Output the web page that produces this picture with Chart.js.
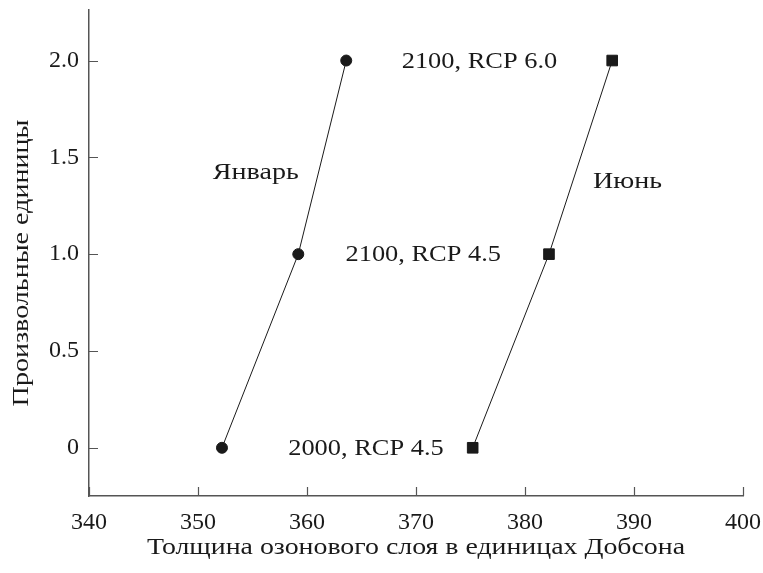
<!DOCTYPE html>
<html>
<head>
<meta charset="utf-8">
<script src="https://cdn.jsdelivr.net/npm/chart.js@4/dist/chart.umd.min.js"></script>
<style>
  html, body { margin: 0; padding: 0; background: #fff; }
  #wrap { width: 763px; height: 573px; }
</style>
</head>
<body>
<div id="wrap"><canvas id="ozoneChart"></canvas></div>
<script>
// data
var janX = [352.2, 359.2, 363.6];
var janY = [0, 1, 2];
var junX = [375.2, 382.2, 388.0];
var junY = [0, 1, 2];
var seriesNames = ['Январь', 'Июнь'];
var pointLabels = ['2000, RCP 4.5', '2100, RCP 4.5', '2100, RCP 6.0'];
var xTicks = [340, 350, 360, 370, 380, 390, 400];
var yTicks = [0, 0.5, 1, 1.5, 2];
var xTitle = 'Толщина озонового слоя в единицах Добсона';
var yTitle = 'Произвольные единицы';

var FONT = '"Liberation Serif", "DejaVu Serif", serif';
var INK = '#1a1a1a';
var AXIS = '#555555';

function toPoints(xs, ys) {
    return xs.map(function (x, i) { return { x: x, y: ys[i] }; });
}

// the reference face is a bit wider than Liberation Serif, so stretch text
function stretchText(ctx, text, x, y, sx, align, rot) {
    ctx.save();
    ctx.translate(x, y);
    if (rot) ctx.rotate(rot);
    ctx.scale(sx, 1);
    ctx.textAlign = align;
    ctx.fillText(text, 0, 0);
    ctx.restore();
}

// tick marks pointing into the plot, titles and the text labels
var decorPlugin = {
    id: 'decor',
    afterDraw: function (chart) {
        var ctx = chart.ctx;
        var xs = chart.scales.x, ys = chart.scales.y;
        var area = chart.chartArea;
        ctx.save();
        ctx.strokeStyle = AXIS;
        ctx.lineWidth = 1.2;
        ctx.beginPath();
        xTicks.forEach(function (v) {
            var px = Math.round(xs.getPixelForValue(v)) + 0.5;
            ctx.moveTo(px, area.bottom);
            ctx.lineTo(px, area.bottom - 9);
        });
        yTicks.forEach(function (v) {
            var py = Math.round(ys.getPixelForValue(v)) + 0.5;
            ctx.moveTo(area.left, py);
            ctx.lineTo(area.left + 9, py);
        });
        ctx.stroke();

        ctx.fillStyle = INK;
        ctx.font = '24px ' + FONT;
        ctx.textBaseline = 'middle';

        // axis titles
        stretchText(ctx, xTitle, (area.left + area.right) / 2, 548, 1.16, 'center');
        stretchText(ctx, yTitle, 22, 263, 1.17, 'center', -Math.PI / 2);

        // labels to the left of the June points
        var offsets = [29, 48, 55];
        pointLabels.forEach(function (t, i) {
            var px = xs.getPixelForValue(junX[i]);
            var py = ys.getPixelForValue(junY[i]);
            stretchText(ctx, t, px - offsets[i], py + 1, 1.1, 'right');
        });

        // series names
        stretchText(ctx, seriesNames[0], xs.getPixelForValue(355.3), ys.getPixelForValue(1.42), 1.17, 'center');
        stretchText(ctx, seriesNames[1], xs.getPixelForValue(389.4), ys.getPixelForValue(1.372), 1.17, 'center');
        ctx.restore();
    }
};

var ctx = document.getElementById('ozoneChart').getContext('2d');
var ozoneChart = new Chart(ctx, {
    type: 'scatter',
    data: {
        datasets: [
            {
                label: seriesNames[0],
                data: toPoints(janX, janY),
                showLine: true,
                borderColor: INK,
                borderWidth: 1,
                backgroundColor: INK,
                pointStyle: 'circle',
                pointRadius: 5.5,
                pointBorderWidth: 1,
                pointBorderColor: INK,
                pointBackgroundColor: INK
            },
            {
                label: seriesNames[1],
                data: toPoints(junX, junY),
                showLine: true,
                borderColor: INK,
                borderWidth: 1,
                backgroundColor: INK,
                pointStyle: 'rect',
                pointRadius: 7.5,
                pointBorderWidth: 1,
                pointBorderColor: INK,
                pointBackgroundColor: INK
            }
        ]
    },
    options: {
        responsive: true,
        maintainAspectRatio: false,
        animation: false,
        clip: false,
        layout: { padding: { top: 10, right: 20, left: 0, bottom: 0 } },
        plugins: {
            legend: { display: false },
            tooltip: { enabled: false }
        },
        scales: {
            x: {
                type: 'linear',
                min: 340,
                max: 400,
                afterBuildTicks: function (scale) {
                    scale.ticks = xTicks.map(function (v) { return { value: v }; });
                },
                afterFit: function (scale) {
                    scale.height = 77;
                    scale.paddingLeft = 0;
                    scale.paddingRight = 0;
                },
                grid: { display: false, drawTicks: false },
                border: { display: true, color: AXIS, width: 1.5 },
                ticks: {
                    color: INK,
                    padding: 12,
                    font: { family: FONT, size: 24 },
                    maxRotation: 0
                }
            },
            y: {
                type: 'linear',
                min: -0.249,
                max: 2.261,
                afterBuildTicks: function (scale) {
                    scale.ticks = yTicks.map(function (v) { return { value: v }; });
                },
                afterFit: function (scale) {
                    scale.width = 89;
                    scale.paddingTop = 0;
                    scale.paddingBottom = 0;
                },
                grid: { display: false, drawTicks: false },
                border: { display: true, color: AXIS, width: 1.5 },
                ticks: {
                    color: INK,
                    padding: 10,
                    font: { family: FONT, size: 24 },
                    callback: function (v) { return v === 0 ? '0' : v.toFixed(1); }
                }
            }
        }
    },
    plugins: [decorPlugin]
});
</script>
</body>
</html>
